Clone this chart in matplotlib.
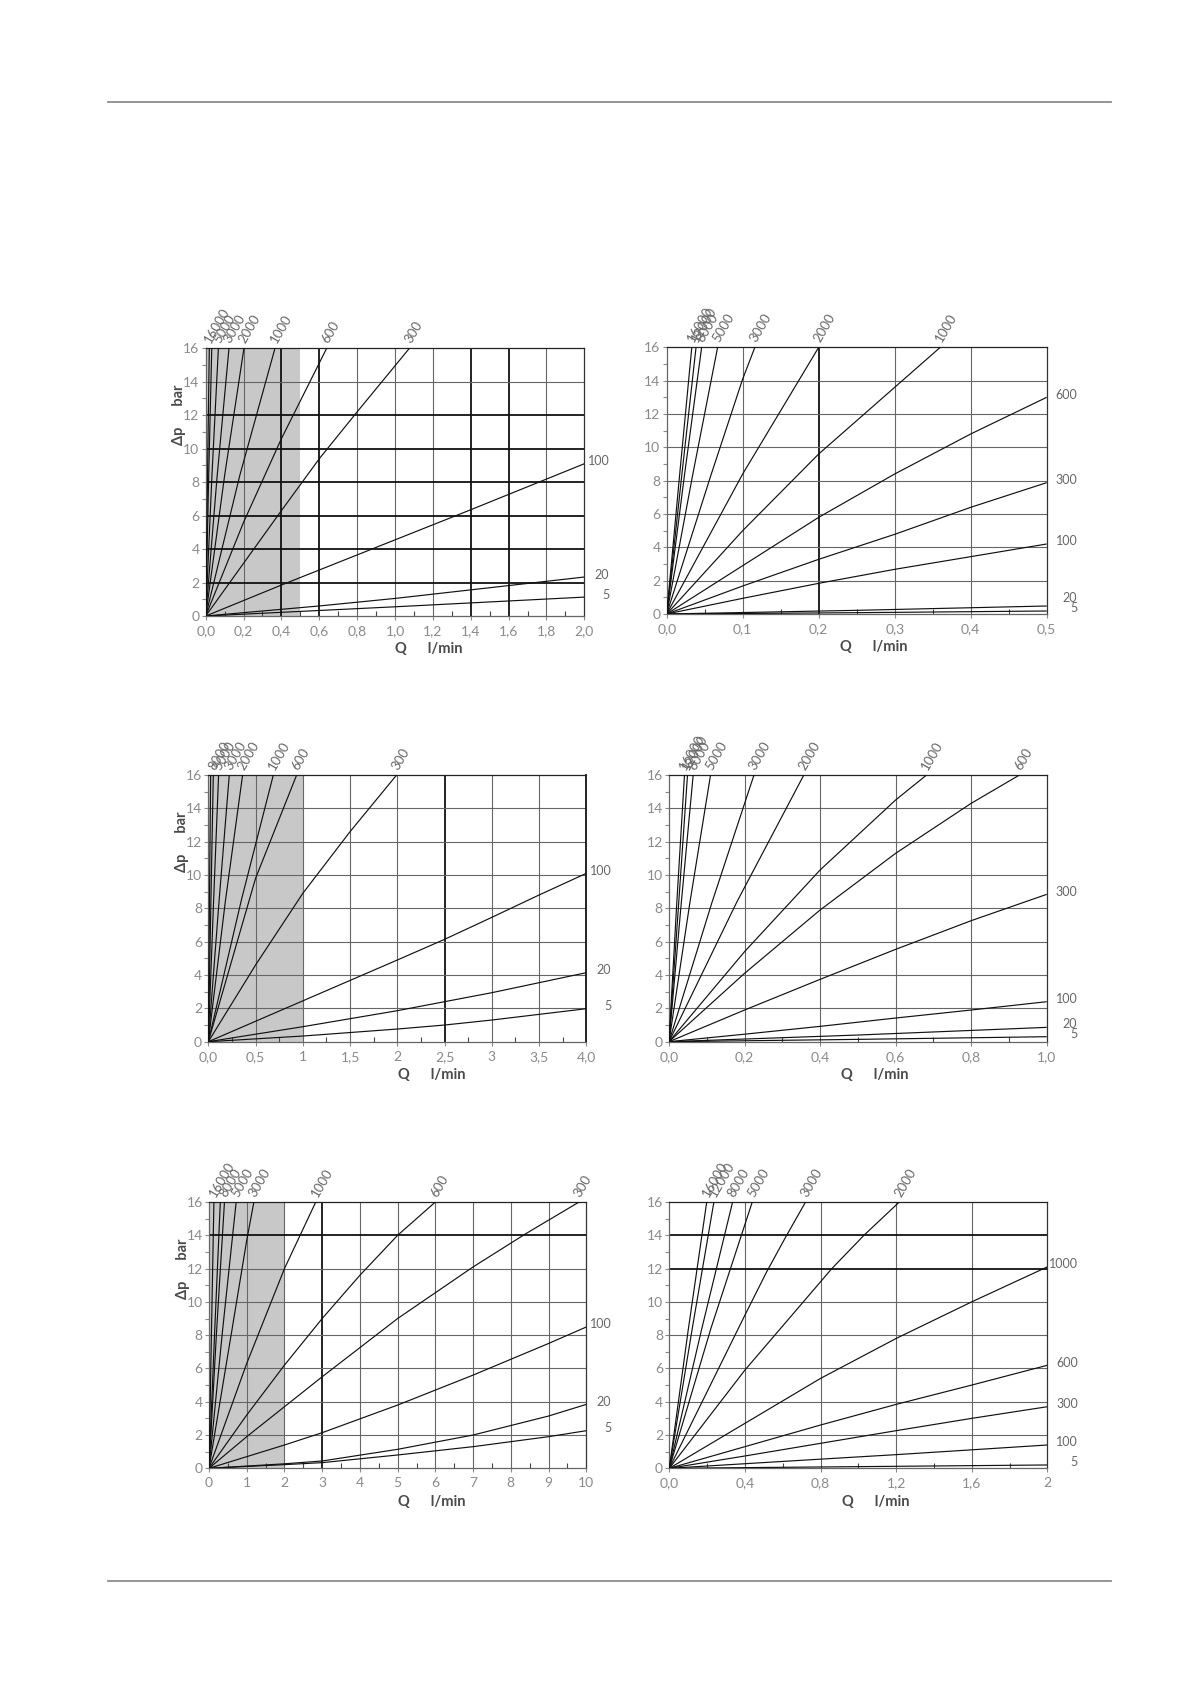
import matplotlib.pyplot as plt
from matplotlib.lines import Line2D
from matplotlib.ticker import FixedLocator

plt.rcParams['font.family'] = ['Lato', 'DejaVu Sans']

# ---------------------------------------------------------------- data
# viscosity curves (mm2/s): Q in l/min, dp in bar
# panel 1 (top left)
P1_NAMES = ["16000", "", "5000", "3000", "2000", "1000", "600", "300", "100", "20", "5"]
P1_Q = [
    [0, 0.010, 0.019],
    [0, 0.016, 0.032],
    [0, 0.033, 0.067],
    [0, 0.060, 0.123],
    [0, 0.100, 0.202],
    [0, 0.180, 0.366],
    [0, 0.2, 0.4, 0.639],
    [0, 0.4, 0.6, 0.8, 1.076],
    [0, 0.4, 1.0, 1.4, 2.0],
    [0, 0.6, 1.0, 2.0],
    [0, 1.0, 2.0],
]
P1_DP = [
    [0, 8.6, 16],
    [0, 8.5, 16],
    [0, 8.4, 16],
    [0, 8.3, 16],
    [0, 8.4, 16],
    [0, 8.4, 16],
    [0, 5.6, 10.6, 16],
    [0, 6.3, 9.4, 12.2, 16],
    [0, 1.85, 4.55, 6.35, 9.1],
    [0, 0.6, 1.05, 2.33],
    [0, 0.55, 1.13],
]
P1_XTICKS = [0, 0.2, 0.4, 0.6, 0.8, 1.0, 1.2, 1.4, 1.6, 1.8, 2.0]
P1_XLABELS = ["0,0", "0,2", "0,4", "0,6", "0,8", "1,0", "1,2", "1,4", "1,6", "1,8", "2,0"]
P1_SHADE = 0.5

# panel 2 (top right)
P2_NAMES = ["16000", "12000", "8000", "5000", "3000", "2000", "1000", "600", "300", "100", "20", "5"]
P2_Q = [
    [0, 0.0165, 0.033],
    [0, 0.0193, 0.0386],
    [0, 0.023, 0.046],
    [0, 0.034, 0.067],
    [0, 0.058, 0.100, 0.116],
    [0, 0.100, 0.200],
    [0, 0.1, 0.2, 0.3, 0.36],
    [0, 0.1, 0.2, 0.3, 0.4, 0.5],
    [0, 0.1, 0.2, 0.3, 0.4, 0.5],
    [0, 0.1, 0.2, 0.3, 0.4, 0.5],
    [0, 0.25, 0.5],
    [0, 0.25, 0.5],
]
P2_DP = [
    [0, 8.1, 16],
    [0, 8.1, 16],
    [0, 8.2, 16],
    [0, 8.3, 16],
    [0, 8.3, 14.1, 16],
    [0, 8.4, 16],
    [0, 5.0, 9.6, 13.6, 16],
    [0, 2.9, 5.8, 8.4, 10.8, 13.0],
    [0, 1.68, 3.28, 4.78, 6.4, 7.88],
    [0, 0.94, 1.84, 2.68, 3.44, 4.2],
    [0, 0.22, 0.48],
    [0, 0.08, 0.18],
]
P2_XTICKS = [0, 0.1, 0.2, 0.3, 0.4, 0.5]
P2_XLABELS = ["0,0", "0,1", "0,2", "0,3", "0,4", "0,5"]
P2_SHADE = None

# panel 3 (middle left)
P3_NAMES = ["", "8000", "5000", "3000", "2000", "1000", "600", "300", "100", "20", "5"]
P3_Q = [
    [0, 0.012, 0.025],
    [0, 0.027, 0.053],
    [0, 0.055, 0.109],
    [0, 0.112, 0.222],
    [0, 0.180, 0.363],
    [0, 0.35, 0.688],
    [0, 0.5, 0.935],
    [0, 0.5, 1.0, 1.5, 1.993],
    [0, 1.0, 2.0, 2.5, 3.0, 3.5, 4.0],
    [0, 1.0, 2.0, 2.5, 3.0, 4.0],
    [0, 1.0, 2.0, 2.5, 3.0, 4.0],
]
P3_DP = [
    [0, 8.3, 16],
    [0, 8.3, 16],
    [0, 8.3, 16],
    [0, 8.3, 16],
    [0, 8.4, 16],
    [0, 8.5, 16],
    [0, 9.8, 16],
    [0, 4.6, 8.9, 12.6, 16],
    [0, 2.45, 4.9, 6.14, 7.46, 8.8, 10.1],
    [0, 0.9, 1.86, 2.4, 2.94, 4.14],
    [0, 0.34, 0.76, 1.0, 1.3, 1.98],
]
P3_XTICKS = [0, 0.5, 1.0, 1.5, 2.0, 2.5, 3.0, 3.5, 4.0]
P3_XLABELS = ["0,0", "0,5", "1", "1,5", "2", "2,5", "3", "3,5", "4,0"]
P3_SHADE = 1.0

# panel 4 (middle right)
P4_NAMES = ["16000", "12000", "8000", "5000", "3000", "2000", "1000", "600", "300", "100", "20", "5"]
P4_Q = [
    [0, 0.020, 0.041],
    [0, 0.025, 0.049],
    [0, 0.032, 0.064],
    [0, 0.055, 0.110],
    [0, 0.113, 0.225],
    [0, 0.180, 0.357],
    [0, 0.2, 0.4, 0.6, 0.682],
    [0, 0.2, 0.4, 0.6, 0.8, 0.928],
    [0, 0.2, 0.4, 0.6, 0.8, 1.0],
    [0, 0.2, 0.4, 0.6, 0.8, 1.0],
    [0, 0.5, 1.0],
    [0, 0.5, 1.0],
]
P4_DP = [
    [0, 8.1, 16],
    [0, 8.1, 16],
    [0, 8.2, 16],
    [0, 8.3, 16],
    [0, 8.3, 16],
    [0, 8.4, 16],
    [0, 5.4, 10.3, 14.5, 16],
    [0, 4.1, 7.9, 11.3, 14.3, 16],
    [0, 1.9, 3.74, 5.54, 7.26, 8.84],
    [0, 0.45, 0.92, 1.42, 1.9, 2.4],
    [0, 0.4, 0.86],
    [0, 0.14, 0.3],
]
P4_XTICKS = [0, 0.2, 0.4, 0.6, 0.8, 1.0]
P4_XLABELS = ["0,0", "0,2", "0,4", "0,6", "0,8", "1,0"]
P4_SHADE = None

# panel 5 (bottom left)
P5_NAMES = ["16000", "", "8000", "5000", "3000", "1000", "600", "300", "100", "20", "5"]
P5_Q = [
    [0, 0.065, 0.13],
    [0, 0.15, 0.30],
    [0, 0.2, 0.41],
    [0, 0.36, 0.72],
    [0, 0.6, 1.0, 1.19],
    [0, 1.0, 2.0, 2.83],
    [0, 1.0, 2.0, 3.0, 4.0, 5.0, 6.0],
    [0, 1.0, 3.0, 5.0, 7.0, 8.4, 9.81],
    [0, 2.0, 3.0, 5.0, 7.0, 9.0, 10.0],
    [0, 2.0, 3.0, 5.0, 7.0, 9.0, 10.0],
    [0, 2.0, 3.0, 5.0, 7.0, 9.0, 10.0],
]
P5_DP = [
    [0, 8.2, 16],
    [0, 8.2, 16],
    [0, 8.2, 16],
    [0, 8.3, 16],
    [0, 8.2, 13.7, 16],
    [0, 6.3, 12.0, 16],
    [0, 3.2, 6.2, 9.0, 11.6, 14.0, 16],
    [0, 1.9, 5.5, 9.0, 12.1, 14.1, 16],
    [0, 1.4, 2.14, 3.8, 5.6, 7.5, 8.49],
    [0, 0.27, 0.44, 1.14, 2.0, 3.14, 3.84],
    [0, 0.22, 0.34, 0.8, 1.3, 1.9, 2.26],
]
P5_XTICKS = [0, 1, 2, 3, 4, 5, 6, 7, 8, 9, 10]
P5_XLABELS = ["0", "1", "2", "3", "4", "5", "6", "7", "8", "9", "10"]
P5_SHADE = 2.0

# panel 6 (bottom right)
P6_NAMES = ["16000", "12000", "8000", "5000", "3000", "2000", "1000", "600", "300", "100", "5"]
P6_Q = [
    [0, 0.1, 0.198],
    [0, 0.12, 0.236],
    [0, 0.17, 0.335],
    [0, 0.22, 0.439],
    [0, 0.4, 0.515, 0.616, 0.721],
    [0, 0.4, 0.86, 1.03, 1.217],
    [0, 0.4, 0.8, 1.2, 1.6, 2.0],
    [0, 0.4, 0.8, 1.2, 1.6, 2.0],
    [0, 0.4, 0.8, 1.2, 1.6, 2.0],
    [0, 0.8, 1.2, 2.0],
    [0, 1.0, 2.0],
]
P6_DP = [
    [0, 8.3, 16],
    [0, 8.3, 16],
    [0, 8.3, 16],
    [0, 8.4, 16],
    [0, 9.2, 11.8, 13.9, 16],
    [0, 5.9, 12, 14, 16],
    [0, 2.7, 5.4, 7.8, 10.0, 12.1],
    [0, 1.3, 2.6, 3.84, 5.0, 6.19],
    [0, 0.74, 1.5, 2.26, 3.0, 3.7],
    [0, 0.55, 0.82, 1.4],
    [0, 0.1, 0.2],
]
P6_XTICKS = [0, 0.4, 0.8, 1.2, 1.6, 2.0]
P6_XLABELS = ["0,0", "0,4", "0,8", "1,2", "1,6", "2"]
P6_SHADE = None

YTICKS = [0, 2, 4, 6, 8, 10, 12, 14, 16]
YMINOR = [1, 3, 5, 7, 9, 11, 13, 15]

# ---------------------------------------------------------------- layout
W, H = 1191, 1684
# axes boxes in pixels: left, top, right, bottom
AX_PX = [
    (205.7, 348.3, 584.3, 616.0),
    (666.7, 347.3, 1046.7, 614.0),
    (208.3, 775.0, 586.3, 1041.7),
    (669.0, 775.0, 1046.7, 1041.7),
    (209.0, 1202.0, 586.3, 1468.3),
    (669.3, 1202.0, 1047.3, 1468.3),
]
# darker (scan) grid lines per panel
BOLD_X = [[0.4, 0.6, 1.4, 1.6], [0.2], [2.5, 4.0], [], [3], []]
BOLD_Y = [[2, 4, 6, 8, 10, 12], [], [], [], [14], [12, 14]]
QLABEL_X = [0.59, 0.545, 0.59, 0.545, 0.59, 0.545]
RIGHT_PAD = [18, 22, 18, 22, 18, 22]   # points, right edge of side labels

GRID_C = "#666666"
BOLD_C = "#111111"
TICK_C = "#8a8a8a"
LABEL_C = "#666666"
TITLE_C = "#4a4a4a"
SHADE_C = "#c8c8c8"

PANELS = [
    (P1_NAMES, P1_Q, P1_DP, P1_XTICKS, P1_XLABELS, P1_SHADE),
    (P2_NAMES, P2_Q, P2_DP, P2_XTICKS, P2_XLABELS, P2_SHADE),
    (P3_NAMES, P3_Q, P3_DP, P3_XTICKS, P3_XLABELS, P3_SHADE),
    (P4_NAMES, P4_Q, P4_DP, P4_XTICKS, P4_XLABELS, P4_SHADE),
    (P5_NAMES, P5_Q, P5_DP, P5_XTICKS, P5_XLABELS, P5_SHADE),
    (P6_NAMES, P6_Q, P6_DP, P6_XTICKS, P6_XLABELS, P6_SHADE),
]


def draw_panel(fig, idx):
    names, qs, dps, xticks, xlabels, shade = PANELS[idx]
    l, t, r, b = AX_PX[idx]
    ax = fig.add_axes([l / W, 1 - b / H, (r - l) / W, (b - t) / H])
    xmax = xticks[-1]
    ax.set_xlim(0, xmax)
    ax.set_ylim(0, 16)

    if shade is not None:
        ax.axvspan(0, shade, color=SHADE_C, lw=0, zorder=0)

    # grid
    for x in xticks[1:-1]:
        bold = x in BOLD_X[idx]
        ax.axvline(x, color=BOLD_C if bold else GRID_C, lw=1.3 if bold else 0.8, zorder=1)
    for y in YTICKS[1:-1]:
        bold = y in BOLD_Y[idx]
        ax.axhline(y, color=BOLD_C if bold else GRID_C, lw=1.3 if bold else 0.8, zorder=1)
    for side, sp in ax.spines.items():
        sp.set_color(GRID_C)
        sp.set_linewidth(0.9)
    ax.spines["top"].set_color("#222222")
    ax.spines["right"].set_color("#333333")
    if xmax in BOLD_X[idx]:
        ax.spines["right"].set_color(BOLD_C)
        ax.spines["right"].set_linewidth(1.3)

    # ticks
    ax.set_xticks(xticks)
    ax.set_xticklabels(xlabels)
    ax.set_yticks(YTICKS)
    ax.xaxis.set_minor_locator(FixedLocator(
        [(a + c) / 2 for a, c in zip(xticks[:-1], xticks[1:])]))
    ax.yaxis.set_minor_locator(FixedLocator(YMINOR))
    ax.tick_params(axis="both", which="major", labelsize=10, labelcolor=TICK_C,
                   color=TICK_C, width=0.8, length=3)
    ax.tick_params(axis="x", which="major", direction="out", pad=3.5)
    ax.tick_params(axis="y", which="major", direction="out", pad=1.5)
    ax.tick_params(axis="x", which="minor", direction="in", length=3.5, color="#444444", width=0.8)
    ax.tick_params(axis="y", which="minor", direction="out", length=3, color=TICK_C, width=0.8)

    # curves
    right_labels = []
    for name, q, dp in zip(names, qs, dps):
        ax.plot(q, dp, color="#111111", lw=0.85, zorder=3, solid_capstyle="butt")
        if not name:
            continue
        if dp[-1] >= 15.99:
            ax.annotate(name, xy=(q[-1], 16), xytext=(2.5, 2.5), textcoords="offset points",
                        rotation=60, rotation_mode="anchor", ha="left", va="bottom",
                        fontsize=9.5, color=LABEL_C, annotation_clip=False)
        else:
            right_labels.append((dp[-1], name))

    # side labels, nudged apart where they would overlap
    right_labels.sort()
    px_per_bar = (b - t) / 16.0
    placed = []
    for y, name in right_labels:
        ypx = y * px_per_bar + 2.5
        if placed and ypx - placed[-1] < 10:
            ypx = placed[-1] + 10
        placed.append(ypx)
        ax.annotate(name, xy=(xmax, 0), xytext=(RIGHT_PAD[idx], ypx * 72 / 100),
                    textcoords="offset points", ha="right", va="center",
                    fontsize=9, color=LABEL_C, annotation_clip=False)

    ax.text(QLABEL_X[idx], -0.125, "Q      l/min", transform=ax.transAxes,
            ha="center", va="center", fontsize=10.5, fontweight="bold", color=TITLE_C)
    if idx % 2 == 0:
        ax.text(-0.07, 0.75, "Δp      bar", transform=ax.transAxes, rotation=90,
                ha="center", va="center", fontsize=10.5, fontweight="bold", color=TITLE_C)
    return ax


fig = plt.figure(figsize=(W / 100, H / 100), dpi=100)
fig.patch.set_facecolor("white")

for i in range(len(PANELS)):
    draw_panel(fig, i)

# page rules
for ypix in (102.3, 1581.0):
    fig.add_artist(Line2D([108 / W, 1111 / W], [1 - ypix / H] * 2,
                          color="#8c8c8c", lw=1.3))

fig.savefig("out.png", dpi=100, facecolor="white")
